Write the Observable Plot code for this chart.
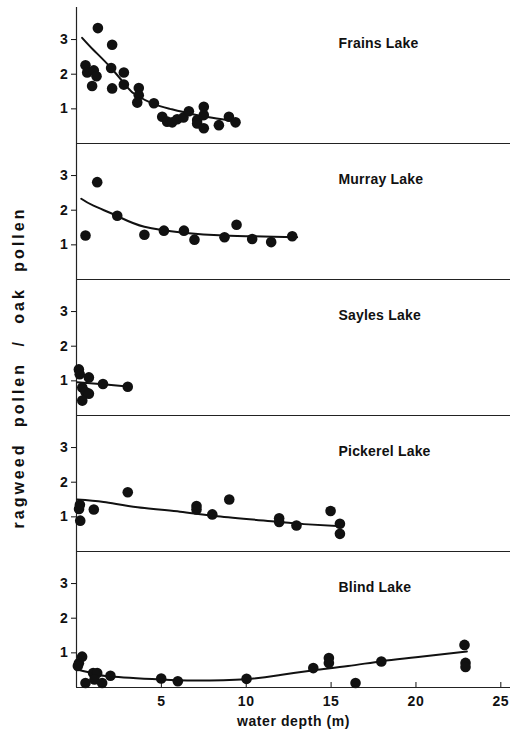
<!DOCTYPE html>
<html><head><meta charset="utf-8">
<script src="https://cdn.jsdelivr.net/npm/d3@7"></script>
<script src="https://cdn.jsdelivr.net/npm/@observablehq/plot@0.6"></script>
<style>
body{margin:0;background:#fff}
#chart svg text{letter-spacing:0.6px}
</style>
</head><body><div id="chart"></div>
<script>
const lakes = ["Frains Lake", "Murray Lake", "Sayles Lake", "Pickerel Lake", "Blind Lake"];
const xTicks = [5, 10, 15, 20, 25];
const yTicks = [1, 2, 3];
const yLabel = "ragweed pollen / oak pollen";
const xLabel = "water depth (m)";

// observed samples: water depth (m) and ragweed/oak pollen ratio
const frainsDepth = [1.26,2.10,0.53,0.63,1.02,1.18,0.92,2.04,2.79,2.10,2.79,3.67,3.67,3.58,4.56,5.05,5.34,5.64,5.93,6.30,6.62,7.11,7.11,7.50,7.50,7.50,8.39,8.98,9.37];
const frainsRatio = [3.33,2.85,2.26,2.05,2.11,1.94,1.66,2.18,2.05,1.59,1.70,1.60,1.39,1.18,1.16,0.77,0.63,0.61,0.70,0.75,0.93,0.68,0.58,1.06,0.82,0.44,0.53,0.77,0.61];
const murrayDepth = [1.22,0.53,2.40,4.00,5.15,6.33,6.95,8.72,9.43,10.35,11.47,12.71];
const murrayRatio = [2.81,1.27,1.84,1.29,1.41,1.41,1.15,1.22,1.58,1.17,1.08,1.25];
const saylesDepth = [0.14,0.19,0.73,0.34,0.53,0.73,0.34,1.56,3.02];
const saylesRatio = [1.33,1.19,1.10,0.81,0.68,0.63,0.43,0.91,0.83];
const pickerelDepth = [0.20,0.15,0.22,1.02,3.02,7.07,7.07,8.00,9.00,11.94,11.94,12.96,14.97,15.52,15.52];
const pickerelRatio = [1.35,1.23,0.89,1.21,1.71,1.31,1.21,1.07,1.50,0.96,0.85,0.75,1.17,0.80,0.51];
const blindDepth = [0.33,0.14,0.08,0.53,0.98,1.22,1.06,1.51,2.00,4.99,5.97,10.02,13.95,14.87,14.87,16.44,17.96,22.86,22.92,22.92];
const blindRatio = [0.89,0.70,0.62,0.13,0.42,0.42,0.23,0.13,0.34,0.26,0.18,0.25,0.56,0.85,0.71,0.13,0.75,1.23,0.71,0.59];

// fitted curves
const frainsFitDepth = [0.33,1,2,3,3.5,4.5,5.5,6.7,8,9.4];
const frainsFitRatio = [3.05,2.7,2.2,1.62,1.4,1.15,1.0,0.86,0.74,0.64];
const murrayFitDepth = [0.28,1,2.4,4,6.3,8.7,13.0];
const murrayFitRatio = [2.33,2.13,1.83,1.52,1.35,1.27,1.22];
const saylesFitDepth = [0.05,1.56,3.0];
const saylesFitRatio = [0.96,0.90,0.84];
const pickerelFitDepth = [0.04,1.6,3.6,6.1,8.3,11.8,13.4,15.6];
const pickerelFitRatio = [1.50,1.43,1.28,1.15,1.02,0.86,0.79,0.73];
const blindFitDepth = [0.04,1,2,5,7,10,12,14,16,18,20,23];
const blindFitRatio = [0.52,0.40,0.32,0.23,0.20,0.24,0.36,0.50,0.62,0.76,0.87,1.04];

const sets = [
  [frainsDepth, frainsRatio, frainsFitDepth, frainsFitRatio],
  [murrayDepth, murrayRatio, murrayFitDepth, murrayFitRatio],
  [saylesDepth, saylesRatio, saylesFitDepth, saylesFitRatio],
  [pickerelDepth, pickerelRatio, pickerelFitDepth, pickerelFitRatio],
  [blindDepth, blindRatio, blindFitDepth, blindFitRatio]
];
const points = [], fits = [];
sets.forEach(([d, r, fd, fr], i) => {
  d.forEach((v, j) => points.push({lake: lakes[i], depth: v, ratio: r[j]}));
  fd.forEach((v, j) => fits.push({lake: lakes[i], depth: v, ratio: fr[j]}));
});

const chart = Plot.plot({
  width: 510,
  height: 731,
  marginLeft: 76,
  marginRight: 0,
  marginTop: 5,
  marginBottom: 43,
  style: {fontFamily: "'Liberation Sans', Arial, sans-serif", fontSize: "14px", fontWeight: "bold", color: "#111", background: "#fff"},
  x: {domain: [0, 25.57]},
  y: {domain: [0, 3.925]},
  fy: {domain: lakes, padding: 0, axis: null},
  marks: [
    Plot.ruleY([0], {stroke: "#222", strokeWidth: 1.2}),
    Plot.ruleX([0], {stroke: "#222", strokeWidth: 1.2}),
    Plot.axisY({ticks: yTicks, tickFormat: "d", tickSize: 5, tickPadding: 3, label: null}),
    Plot.axisX({ticks: xTicks, tickFormat: "d", tickSize: -5, label: xLabel, labelAnchor: "center", labelArrow: "none", labelOffset: 38}),
    Plot.line(fits, {x: "depth", y: "ratio", fy: "lake", curve: "natural", stroke: "#111", strokeWidth: 2}),
    Plot.dot(points, {x: "depth", y: "ratio", fy: "lake", r: 5.3, fill: "#111", stroke: "none"}),
    Plot.text(lakes, {fy: d => d, text: d => d, frameAnchor: "top-left", dx: 262, dy: 31, textAnchor: "start", fontSize: 14}),
    Plot.text([yLabel], {fy: ["Sayles Lake"], text: d => d, frameAnchor: "left", textAnchor: "middle", lineAnchor: "middle", rotate: -90, dx: -58, dy: 20})
  ]
});
document.getElementById("chart").appendChild(chart);

const svg = d3.select(chart);
svg.selectAll('g[aria-label="y-axis tick label"] text, g[aria-label="x-axis tick label"] text, g[aria-label="x-axis label"] text')
  .style("font-size", "14px");
svg.selectAll("text").filter(function() { return lakes.includes(this.textContent); })
  .style("letter-spacing", "0.2px");
svg.selectAll("text").filter(function() { return this.textContent === yLabel; })
  .style("font-size", "16px").style("letter-spacing", "3px").style("word-spacing", "8px");
</script>
</body></html>
